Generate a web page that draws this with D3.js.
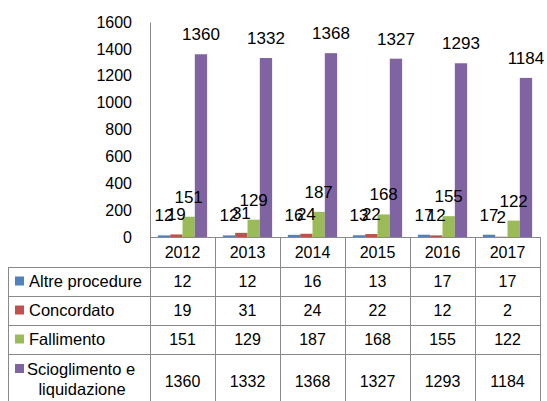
<!DOCTYPE html>
<html>
<head>
<meta charset="utf-8">
<script src="https://cdn.jsdelivr.net/npm/d3@7"></script>
<style>
    body { margin: 0; background: #fff; }
    svg { display: block; font-family: "Liberation Sans", Arial, sans-serif; }
</style>
</head>
<body>
<svg id="chart" width="547" height="401"></svg>
<script>
var years = ["2012", "2013", "2014", "2015", "2016", "2017"];
var seriesNames = ["Altre procedure", "Concordato", "Fallimento", "Scioglimento e liquidazione"];
var altre = [12, 12, 16, 13, 17, 17];
var concordato = [19, 31, 24, 22, 12, 2];
var fallimento = [151, 129, 187, 168, 155, 122];
var scioglimento = [1360, 1332, 1368, 1327, 1293, 1184];
var yTicks = [0, 200, 400, 600, 800, 1000, 1200, 1400, 1600];

var colors = ["#4f81bd", "#c0504d", "#9bbb59", "#8064a2"];
var values = [altre, concordato, fallimento, scioglimento];
var lineColor = "#898989";

var svg = d3.select("#chart");

var plotLeft = 150, plotRight = 540, plotTop = 22, base = 237;
var tableLeft = 8;
// row heights of the data table: header, 3 single rows, wrapped last row (runs past the bottom)
var rowH = [30, 29, 29, 29, 54];

var x0 = d3.scaleBand().domain(years).range([plotLeft, plotRight]);
var x1 = d3.scaleBand().domain(d3.range(seriesNames.length))
    .range([0, x0.bandwidth()]).paddingOuter(0.64);
var y = d3.scaleLinear().domain([0, 1600]).range([base, plotTop]);

// y axis
var yAxis = svg.append("g")
    .attr("transform", "translate(" + plotLeft + ",0)")
    .call(d3.axisLeft(y).tickValues(yTicks).tickFormat(d3.format("d"))
        .tickSize(0).tickSizeOuter(0).tickPadding(18));
yAxis.select(".domain").attr("stroke", lineColor);
yAxis.selectAll("text")
    .style("font-size", "16px")
    .style("font-family", "Liberation Sans, Arial, sans-serif")
    .attr("fill", "#000");

// bars
var groups = svg.selectAll(".year")
    .data(years)
    .enter()
    .append("g")
    .attr("transform", function (d) { return "translate(" + x0(d) + ",0)"; });

groups.selectAll("rect")
    .data(function (d, i) {
        return values.map(function (s, k) { return { k: k, v: s[i] }; });
    })
    .enter()
    .append("rect")
    .attr("x", function (d) { return x1(d.k); })
    .attr("width", x1.bandwidth())
    .attr("y", function (d) { return y(d.v); })
    .attr("height", function (d) { return base - y(d.v); })
    .attr("fill", function (d) { return colors[d.k]; });

// data labels
groups.selectAll("text.lbl")
    .data(function (d, i) {
        return values.map(function (s, k) { return { k: k, v: s[i] }; });
    })
    .enter()
    .append("text")
    .attr("class", "lbl")
    .attr("x", function (d) { return x1(d.k) + x1.bandwidth() / 2; })
    .attr("y", function (d) { return y(d.v) - 14; })
    .attr("text-anchor", "middle")
    .style("font-size", "17px")
    .attr("fill", "#000")
    .text(function (d) { return d.v; });

// data table
var rowTop = [base];
rowH.forEach(function (h, i) { rowTop.push(rowTop[i] + h); });
var grid = svg.append("g").attr("stroke", lineColor).attr("stroke-width", 1).attr("shape-rendering", "crispEdges");

// x axis line
grid.append("line").attr("x1", plotLeft).attr("x2", plotRight).attr("y1", base).attr("y2", base);
// horizontal table lines
rowTop.slice(1).forEach(function (yy) {
    grid.append("line").attr("x1", tableLeft).attr("x2", plotRight).attr("y1", yy).attr("y2", yy);
});
// vertical lines
x0.domain().forEach(function (d) {
    grid.append("line").attr("x1", x0(d)).attr("x2", x0(d)).attr("y1", base).attr("y2", rowTop[5]);
});
grid.append("line").attr("x1", plotRight).attr("x2", plotRight).attr("y1", base).attr("y2", rowTop[5]);
grid.append("line").attr("x1", tableLeft).attr("x2", tableLeft).attr("y1", rowTop[1]).attr("y2", rowTop[5]);

// year headers
svg.selectAll("text.year")
    .data(years)
    .enter()
    .append("text")
    .attr("class", "year")
    .attr("x", function (d) { return x0(d) + x0.bandwidth() / 2; })
    .attr("y", (rowTop[0] + rowTop[1]) / 2)
    .attr("dy", "0.35em")
    .attr("text-anchor", "middle")
    .style("font-size", "16px")
    .text(function (d) { return d; });

// rows
seriesNames.forEach(function (name, k) {
    var cy = (rowTop[k + 1] + rowTop[k + 2]) / 2;
    var wrapped = k === 3;
    svg.append("rect")
        .attr("x", 15)
        .attr("y", wrapped ? rowTop[k + 1] + 10 : cy - 5)
        .attr("width", 9)
        .attr("height", 9)
        .attr("fill", colors[k]);
    if (wrapped) {
        var t = svg.append("text")
            .attr("text-anchor", "middle")
            .style("font-size", "16.5px");
        t.append("tspan").attr("x", 81).attr("y", rowTop[k + 1] + 21).text("Scioglimento e");
        t.append("tspan").attr("x", 82).attr("y", rowTop[k + 1] + 41).text("liquidazione");
    } else {
        svg.append("text")
            .attr("x", 29)
            .attr("y", cy)
            .attr("dy", "0.35em")
            .style("font-size", "16.5px")
            .text(name);
    }
    svg.selectAll("text.v" + k)
        .data(values[k])
        .enter()
        .append("text")
        .attr("class", "v" + k)
        .attr("x", function (d, i) { return x0(years[i]) + x0.bandwidth() / 2; })
        .attr("y", cy)
        .attr("dy", "0.35em")
        .attr("text-anchor", "middle")
        .style("font-size", "16px")
        .text(function (d) { return d; });
});
</script>
</body>
</html>
